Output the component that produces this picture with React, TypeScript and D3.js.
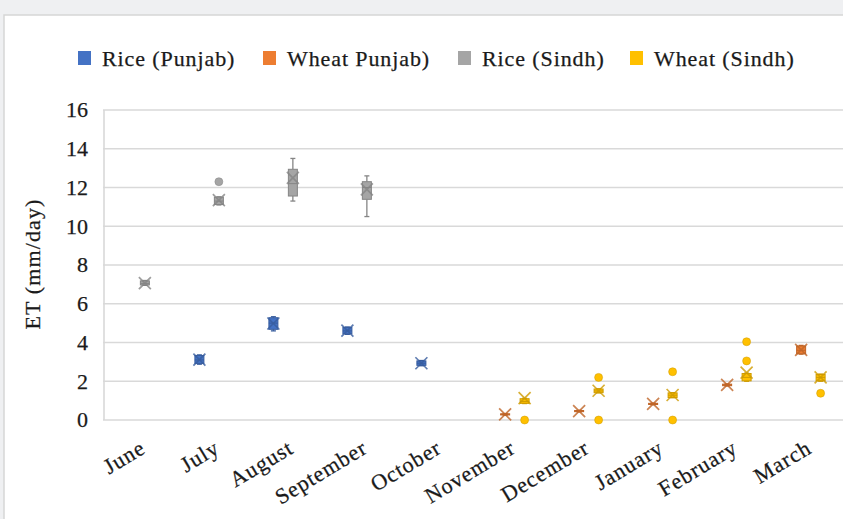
import React from "react";
import * as d3 from "d3";

const months = ["June", "July", "August", "September", "October", "November", "December", "January", "February", "March"];
const seriesNames = ["Rice (Punjab)", "Wheat Punjab)", "Rice (Sindh)", "Wheat (Sindh)"];
const seriesColors = ["#4472c4", "#ed7d31", "#a5a5a5", "#ffc000"];
const yTicks = [0, 2, 4, 6, 8, 10, 12, 14, 16];

type Box = { m: string; lo: number; q1: number; md: number; q3: number; hi: number; mean: number; out: number[] };

const ricePunjab: Box[] = [
  { m: "July", lo: 2.88, q1: 2.92, md: 3.1, q3: 3.33, hi: 3.36, mean: 3.12, out: [] },
  { m: "August", lo: 4.6, q1: 4.68, md: 5.0, q3: 5.28, hi: 5.33, mean: 4.98, out: [] },
  { m: "September", lo: 4.42, q1: 4.45, md: 4.6, q3: 4.78, hi: 4.8, mean: 4.61, out: [] },
  { m: "October", lo: 2.8, q1: 2.82, md: 2.93, q3: 3.05, hi: 3.07, mean: 2.93, out: [] },
];
const wheatPunjab: Box[] = [
  { m: "November", lo: 0.25, q1: 0.26, md: 0.29, q3: 0.32, hi: 0.33, mean: 0.29, out: [] },
  { m: "December", lo: 0.42, q1: 0.43, md: 0.46, q3: 0.49, hi: 0.5, mean: 0.46, out: [] },
  { m: "January", lo: 0.79, q1: 0.8, md: 0.83, q3: 0.86, hi: 0.87, mean: 0.83, out: [] },
  { m: "February", lo: 1.76, q1: 1.77, md: 1.81, q3: 1.85, hi: 1.86, mean: 1.81, out: [] },
  { m: "March", lo: 3.4, q1: 3.42, md: 3.6, q3: 3.82, hi: 3.85, mean: 3.62, out: [] },
];
const riceSindh: Box[] = [
  { m: "June", lo: 6.95, q1: 6.97, md: 7.05, q3: 7.18, hi: 7.2, mean: 7.06, out: [] },
  { m: "July", lo: 11.1, q1: 11.12, md: 11.3, q3: 11.5, hi: 11.52, mean: 11.35, out: [12.3] },
  { m: "August", lo: 11.3, q1: 11.56, md: 12.2, q3: 12.94, hi: 13.5, mean: 12.5, out: [] },
  { m: "September", lo: 10.5, q1: 11.39, md: 12.0, q3: 12.3, hi: 12.6, mean: 11.9, out: [] },
];
const wheatSindh: Box[] = [
  { m: "November", lo: 0.85, q1: 0.86, md: 0.95, q3: 1.1, hi: 1.12, mean: 1.13, out: [0] },
  { m: "December", lo: 1.4, q1: 1.41, md: 1.5, q3: 1.6, hi: 1.61, mean: 1.51, out: [2.2, 0] },
  { m: "January", lo: 1.15, q1: 1.16, md: 1.28, q3: 1.4, hi: 1.41, mean: 1.29, out: [2.49, 0] },
  { m: "February", lo: 2.0, q1: 2.02, md: 2.2, q3: 2.4, hi: 2.42, mean: 2.45, out: [3.05, 4.04] },
  { m: "March", lo: 2.0, q1: 2.03, md: 2.2, q3: 2.35, hi: 2.37, mean: 2.2, out: [1.38] },
];
const seriesData = [ricePunjab, wheatPunjab, riceSindh, wheatSindh];

const W = 843;
const H = 519;
const FONT = "'Liberation Serif', 'Times New Roman', serif";

export default function App() {
  const x = d3.scaleBand<string>().domain(months).range([103, 843]).padding(0);
  const inner = d3.scaleBand<string>().domain(seriesNames).range([0, x.bandwidth()]).paddingInner(0).paddingOuter(1.8);
  const y = d3.scaleLinear().domain([0, 16]).range([420, 110]);
  const bw = 9;
  const legendX = [78, 263, 458, 630];

  return (
    <svg width={W} height={H} style={{ position: "absolute", left: 0, top: 0 }} fontFamily={FONT}>
      <rect x={0} y={0} width={W} height={H} fill="#eff0f2" />
      <rect x={4} y={15} width={W} height={H} fill="#ffffff" stroke="#d6d6d6" strokeWidth={1.5} />
      {yTicks.map((t) => (
        <line key={t} x1={103} x2={843} y1={y(t)} y2={y(t)} stroke="#d9d9d9" strokeWidth={1.6} />
      ))}
      <line x1={104} x2={104} y1={y(16)} y2={y(0)} stroke="#d9d9d9" strokeWidth={1.6} />
      {yTicks.map((t) => (
        <text key={t} x={88} y={y(t)} dy="0.34em" textAnchor="end" fontSize={22} fill="#1a1a1a" stroke="#1a1a1a" strokeWidth={0.25}>
          {t}
        </text>
      ))}
      <text transform={`translate(40,${264}) rotate(-90)`} textAnchor="middle" fontSize={22} letterSpacing={1.1} fill="#1a1a1a" stroke="#1a1a1a" strokeWidth={0.25}>
        ET (mm/day)
      </text>
      {months.map((m) => (
        <text
          key={m}
          transform={`translate(${(x(m) as number) + x.bandwidth() / 2 + 7},${452}) rotate(-31)`}
          textAnchor="end"
          fontSize={22}
          letterSpacing={1}
          fill="#1a1a1a"
          stroke="#1a1a1a"
          strokeWidth={0.25}
        >
          {m}
        </text>
      ))}
      {seriesData.map((data, si) => {
        const c = seriesColors[si];
        const dark = d3.color(c)!.darker(0.6).formatHex();
        return (
          <g key={si}>
            {data.map((b) => {
              const cx = (x(b.m) as number) + (inner(seriesNames[si]) as number) + inner.bandwidth() / 2;
              return (
                <g key={b.m}>
                  <line x1={cx} x2={cx} y1={y(b.hi)} y2={y(b.q3)} stroke={dark} strokeWidth={1.3} />
                  <line x1={cx} x2={cx} y1={y(b.q1)} y2={y(b.lo)} stroke={dark} strokeWidth={1.3} />
                  <line x1={cx - 2.5} x2={cx + 2.5} y1={y(b.hi)} y2={y(b.hi)} stroke={dark} strokeWidth={1.3} />
                  <line x1={cx - 2.5} x2={cx + 2.5} y1={y(b.lo)} y2={y(b.lo)} stroke={dark} strokeWidth={1.3} />
                  <rect
                    x={cx - bw / 2}
                    y={y(b.q3)}
                    width={bw}
                    height={Math.max(1, y(b.q1) - y(b.q3))}
                    fill={c}
                    stroke={dark}
                    strokeWidth={1}
                  />
                  <line x1={cx - bw / 2} x2={cx + bw / 2} y1={y(b.md)} y2={y(b.md)} stroke={dark} strokeWidth={1} />
                  <path
                    d={`M${cx - 6},${y(b.mean) - 6}L${cx + 6},${y(b.mean) + 6}M${cx - 6},${y(b.mean) + 6}L${cx + 6},${y(b.mean) - 6}`}
                    stroke={dark}
                    strokeWidth={1.7}
                    opacity={0.8}
                    fill="none"
                  />
                  {b.out.map((o, oi) => (
                    <circle key={oi} cx={cx} cy={y(o)} r={4} fill={c} stroke={dark} strokeWidth={0.5} />
                  ))}
                </g>
              );
            })}
          </g>
        );
      })}
      {seriesNames.map((n, i) => (
        <g key={n}>
          <rect x={legendX[i]} y={51} width={13} height={14} fill={seriesColors[i]} />
          <text x={legendX[i] + 24} y={58} dy="0.35em" fontSize={22} letterSpacing={0.9} fill="#1a1a1a" stroke="#1a1a1a" strokeWidth={0.25}>
            {n}
          </text>
        </g>
      ))}
    </svg>
  );
}
